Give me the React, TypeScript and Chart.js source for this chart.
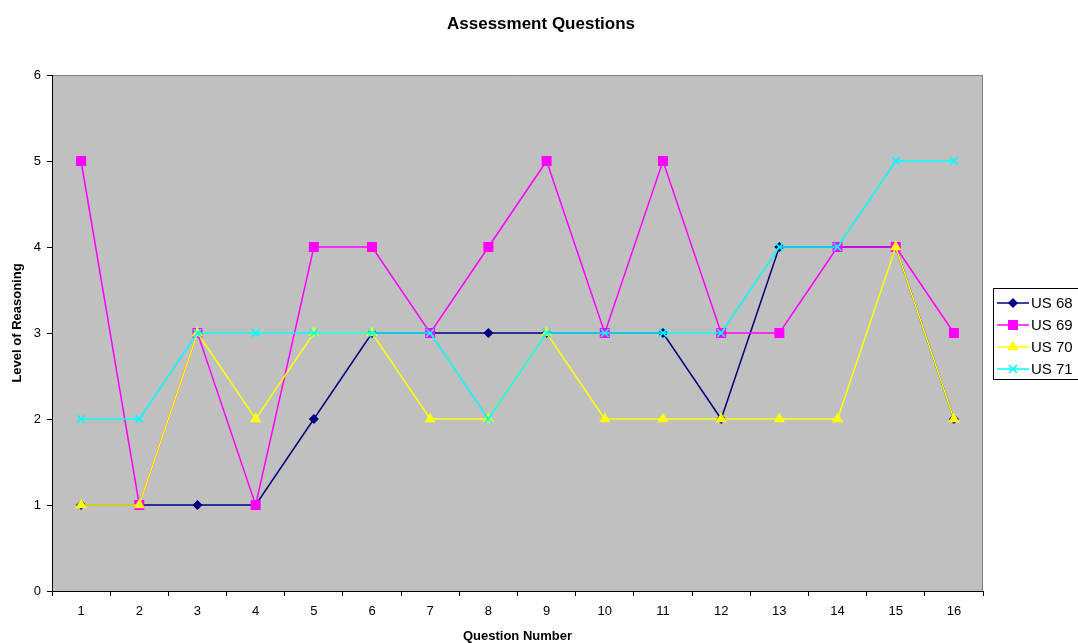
import React, { useEffect, useRef } from "react";
import { Chart, registerables } from "chart.js";
import { drawPoint } from "chart.js/helpers";

Chart.register(...registerables);

const questions = ["1", "2", "3", "4", "5", "6", "7", "8", "9", "10", "11", "12", "13", "14", "15", "16"];
const us68 = [1, 1, 1, 1, 2, 3, 3, 3, 3, 3, 3, 2, 4, 4, 4, 2];
const us69 = [5, 1, 3, 1, 4, 4, 3, 4, 5, 3, 5, 3, 3, 4, 4, 3];
const us70 = [1, 1, 3, 2, 3, 3, 2, 2, 3, 2, 2, 2, 2, 2, 4, 2];
const us71 = [2, 2, 3, 3, 3, 3, 3, 2, 3, 3, 3, 3, 4, 4, 5, 5];
const seriesNames = ["US 68", "US 69", "US 70", "US 71"];
const titleText = "Assessment Questions";
const xTitle = "Question Number";
const yTitle = "Level of Reasoning";

const FONT = "'Liberation Sans', Arial, sans-serif";

const decorPlugin = {
  id: "decor",
  beforeDraw(chart: any) {
    const { ctx, chartArea: a } = chart;
    ctx.save();
    ctx.fillStyle = "#ffffff";
    ctx.fillRect(0, 0, chart.width, chart.height);
    ctx.fillStyle = "#C0C0C0";
    ctx.fillRect(a.left, a.top, a.right - a.left, a.bottom - a.top);
    ctx.strokeStyle = "#808080";
    ctx.lineWidth = 1;
    ctx.beginPath();
    ctx.moveTo(a.left, a.top + 0.5);
    ctx.lineTo(a.right - 0.5, a.top + 0.5);
    ctx.lineTo(a.right - 0.5, a.bottom);
    ctx.stroke();
    ctx.restore();
  },
  afterDraw(chart: any) {
    const { ctx, chartArea: a } = chart;
    ctx.save();
    ctx.fillStyle = "#000000";
    ctx.textAlign = "center";
    ctx.textBaseline = "middle";
    ctx.font = `bold 17px ${FONT}`;
    ctx.fillText(titleText, chart.width / 2 + 2, 24);
    ctx.font = `bold 13px ${FONT}`;
    ctx.fillText(xTitle, (a.left + a.right) / 2, 636);
    ctx.save();
    ctx.translate(17, (a.top + a.bottom) / 2 - 10);
    ctx.rotate(-Math.PI / 2);
    ctx.fillText(yTitle, 0, 0);
    ctx.restore();

    // legend
    const bx = 993;
    const by = 288;
    ctx.strokeStyle = "#000000";
    ctx.lineWidth = 1;
    ctx.strokeRect(bx + 0.5, by + 0.5, 120, 91);
    chart.data.datasets.forEach((ds: any, i: number) => {
      const y = by + 15 + i * 22;
      ctx.strokeStyle = ds.borderColor;
      ctx.lineWidth = 1.5;
      ctx.beginPath();
      ctx.moveTo(997, y);
      ctx.lineTo(1029, y);
      ctx.stroke();
      ctx.fillStyle = ds.pointBackgroundColor;
      ctx.strokeStyle = ds.pointBorderColor;
      drawPoint(ctx, { pointStyle: ds.pointStyle, radius: ds.pointRadius, rotation: 0, borderWidth: ds.pointBorderWidth }, 1013, y);
      ctx.fillStyle = "#000000";
      ctx.font = `15px ${FONT}`;
      ctx.textAlign = "left";
      ctx.textBaseline = "middle";
      ctx.fillText(ds.label, 1031, y + 1);
    });
    ctx.restore();
  },
};

function mk(label: string, data: number[], color: string, style: string, radius: number, order: number) {
  return {
    label,
    data,
    borderColor: color,
    backgroundColor: color,
    pointBackgroundColor: color,
    pointBorderColor: color,
    pointStyle: style,
    pointRadius: radius,
    pointBorderWidth: 1.5,
    borderWidth: 1.5,
    tension: 0,
    fill: false,
    order,
  };
}

export default function App() {
  const ref = useRef<HTMLCanvasElement | null>(null);
  useEffect(() => {
    if (!ref.current) return;
    const chart = new Chart(ref.current, {
      type: "line",
      data: {
        labels: questions,
        datasets: [
          mk(seriesNames[0], us68, "#000080", "rectRot", 4, 4),
          mk(seriesNames[1], us69, "#FF00FF", "rect", 6, 3),
          mk(seriesNames[2], us70, "#FFFF00", "triangle", 5, 2),
          mk(seriesNames[3], us71, "#00FFFF", "crossRot", 5.5, 1),
        ],
      },
      options: {
        responsive: false,
        animation: false,
        events: [],
        layout: { padding: { top: 75, right: 95, left: 0, bottom: 0 } },
        plugins: {
          legend: { display: false },
          title: { display: false },
          tooltip: { enabled: false },
        },
        scales: {
          x: {
            type: "category",
            offset: true,
            afterFit(scale: any) {
              scale.height = 52;
            },
            grid: {
              display: true,
              offset: true,
              drawOnChartArea: false,
              drawTicks: true,
              tickLength: 5,
              color: "#000000",
            },
            border: { display: true, color: "#000000", width: 1 },
            ticks: {
              color: "#000000",
              font: { family: FONT, size: 13 },
              padding: 8,
              maxRotation: 0,
              autoSkip: false,
            },
          },
          y: {
            min: 0,
            max: 6,
            afterFit(scale: any) {
              scale.width = 52;
            },
            grid: {
              display: true,
              drawOnChartArea: false,
              drawTicks: true,
              tickLength: 5,
              color: "#000000",
            },
            border: { display: true, color: "#000000", width: 1 },
            ticks: {
              stepSize: 1,
              color: "#000000",
              font: { family: FONT, size: 13 },
              padding: 6,
            },
          },
        },
      },
      plugins: [decorPlugin],
    } as any);
    return () => chart.destroy();
  }, []);
  return (
    <div style={{ position: "fixed", left: 0, top: 0, width: 1078, height: 643, background: "#fff" }}>
      <canvas ref={ref} width={1078} height={643} style={{ display: "block", width: 1078, height: 643 }} />
    </div>
  );
}
